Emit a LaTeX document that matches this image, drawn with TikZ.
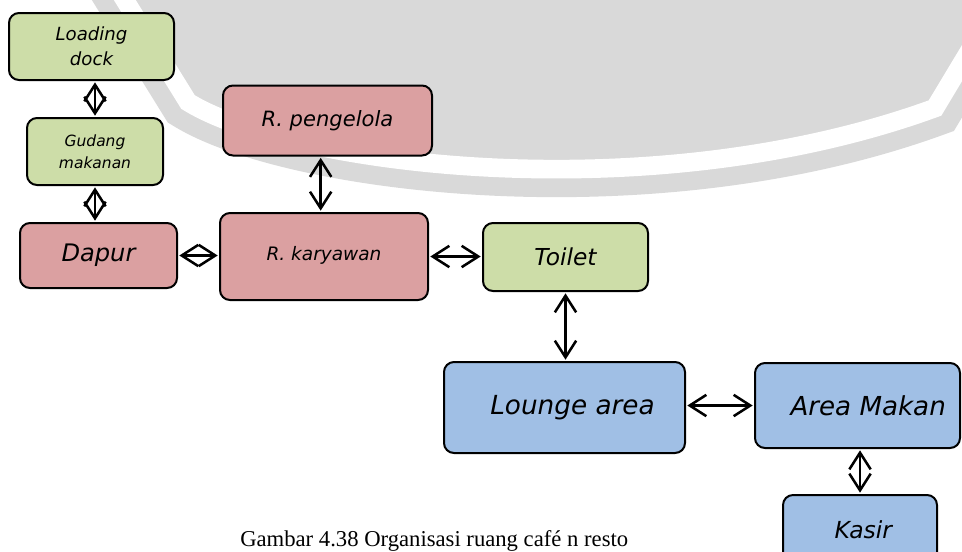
\documentclass[tikz,border=0pt]{standalone}
\usepackage{fontspec}
\setmainfont{Liberation Serif}
\newfontfamily\roomfont{DejaVu Sans}
\usetikzlibrary{arrows.meta}

\definecolor{roomgreen}{HTML}{CDDDA8}
\definecolor{roomred}{HTML}{DBA0A1}
\definecolor{roomblue}{HTML}{A0BFE5}
\definecolor{shieldgray}{HTML}{D9D9D9}

\begin{document}
\begin{tikzpicture}[x=0.75pt,y=-0.75pt,
  room/.style={draw=black, line width=1.5pt, rounded corners=7.5pt, inner sep=0pt, align=center},
  link/.style={line width=1.9pt,
    {Straight Barb[length=12.5pt,width=16pt]}-{Straight Barb[length=12.5pt,width=16pt]},
    shorten <=1pt, shorten >=1pt},
  shieldpath/.style={line join=miter}
]
\useasboundingbox (0,0) rectangle (962,551);

% shield emblem at the top
\fill[shieldgray] (100,-40) -- (188,102) .. controls (290,165) and (650,212) .. (935,108) -- (1024,-40) -- cycle;
\draw[shieldgray, line width=42pt, shieldpath] (100,-40) -- (188,102) .. controls (290,165) and (650,212) .. (935,108) -- (1024,-40);
\draw[white, line width=14pt, shieldpath] (100,-40) -- (188,102) .. controls (290,165) and (650,212) .. (935,108) -- (1024,-40);

% rooms
\node[room, fill=roomgreen, minimum width=123.75pt, minimum height=50.25pt,
  font=\roomfont\itshape\fontsize{13.6}{18.8}\selectfont] (load) at (91.5,46.5) {Loading\\dock};
\node[room, fill=roomgreen, minimum width=102pt, minimum height=50.25pt,
  font=\roomfont\itshape\fontsize{11.6}{16.5}\selectfont] (gud) at (95,151.5) {Gudang\\makanan};
\node[room, fill=roomred, minimum width=117.75pt, minimum height=48.75pt,
  font=\roomfont\itshape\fontsize{18.1}{22}\selectfont] (dapur) at (98.5,255.5) {Dapur};
\node[room, fill=roomred, minimum width=156.75pt, minimum height=52.5pt,
  font=\roomfont\itshape\fontsize{15.8}{19}\selectfont] (peng) at (327.5,120.5) {\raisebox{3.5pt}{R. pengelola}};
\node[room, fill=roomred, minimum width=156pt, minimum height=65.25pt,
  font=\roomfont\itshape\fontsize{13.9}{17}\selectfont] (kary) at (324,256.5) {\raisebox{4.5pt}{R. karyawan}};
\node[room, fill=roomgreen, minimum width=123.75pt, minimum height=51pt,
  font=\roomfont\itshape\fontsize{17.5}{21}\selectfont] (toilet) at (565.5,257) {Toilet};
\node[room, fill=roomblue, minimum width=180.75pt, minimum height=68.25pt,
  font=\roomfont\itshape\fontsize{19.7}{24}\selectfont] (lounge) at (564.5,407.5) {\hspace*{12pt}Lounge area};
\node[room, fill=roomblue, minimum width=153.75pt, minimum height=63.75pt,
  font=\roomfont\itshape\fontsize{19.6}{24}\selectfont] (area) at (857.5,405.5) {\hspace*{16pt}Area Makan};
\node[room, fill=roomblue, minimum width=115.5pt, minimum height=52.5pt,
  font=\roomfont\itshape\fontsize{17.6}{21}\selectfont] (kasir) at (860,530) {\hspace*{5pt}Kasir};

% relations
\draw[link] (gud.north |- load.south) -- (gud.north);
\draw[link] (gud.south) -- (gud.south |- dapur.north);
\draw[link] (dapur.east) -- (dapur.east -| kary.west);
\draw[link] ([xshift=-2.5pt]kary.north) -- ([xshift=-2.5pt]kary.north |- peng.south);
\draw[link] (kary.east) -- (kary.east -| toilet.west);
\draw[link] (toilet.south) -- (toilet.south |- lounge.north);
\draw[link] (area.west -| lounge.east) -- (area.west);
\draw[link] (kasir.north) -- (kasir.north |- area.south);

% caption
\node[anchor=base west, inner sep=0pt, font=\fontsize{17}{20}\selectfont] (cap) at (240,546)
  {Gambar 4.38 Organisasi ruang café n resto};
\end{tikzpicture}
\end{document}
